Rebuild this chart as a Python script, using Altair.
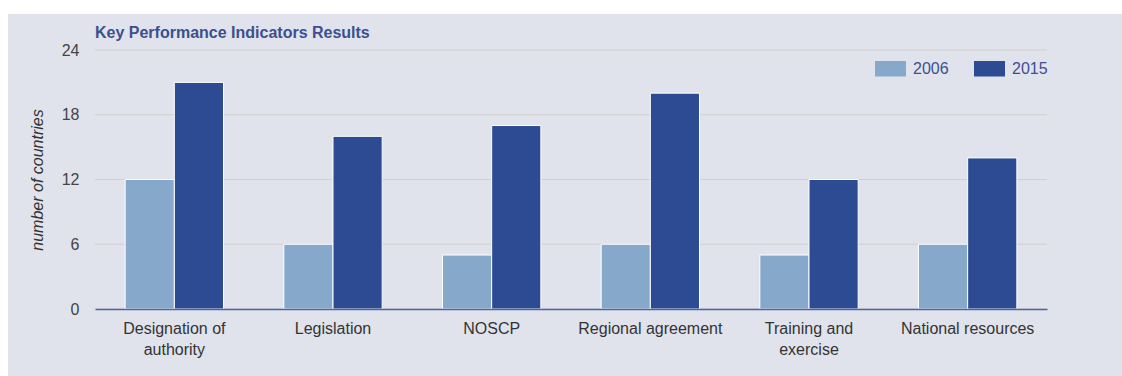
import altair as alt
import pandas as pd

# --- data -------------------------------------------------------------
categories = [
    "Designation of authority",
    "Legislation",
    "NOSCP",
    "Regional agreement",
    "Training and exercise",
    "National resources",
]
years = ["2006", "2015"]
values_2006 = [12, 6, 5, 6, 5, 6]
values_2015 = [21, 16, 17, 20, 12, 14]
y_ticks = [0, 6, 12, 18, 24]

# longer category names are shown on two lines
label_lines = {
    "Designation of authority": ["Designation of", "authority"],
    "Training and exercise": ["Training and", "exercise"],
}

# --- layout / style ---------------------------------------------------
W, H = 952, 259
PAD = {"left": 95, "top": 50, "right": 75, "bottom": 67}
FONT = "Liberation Sans"
PANEL = "#e0e3eb"
GRID = "#cfcfcf"
BLUE_TEXT = "#3d4f8f"
BAR_COLORS = ["#86a9cb", "#2d4b93"]

rows = []
for cat, v06, v15 in zip(categories, values_2006, values_2015):
    rows.append({"category": cat, "year": years[0], "count": v06})
    rows.append({"category": cat, "year": years[1], "count": v15})
df = pd.DataFrame(rows)
ticks_df = pd.DataFrame({"v": y_ticks})

label_expr = ""
for name, lines in label_lines.items():
    parts = ", ".join(f"'{s}'" for s in lines)
    label_expr += f"datum.label == '{name}' ? [{parts}] : "
label_expr += "datum.label"

y_scale = alt.Scale(domain=[0, 24], nice=False)
y_axis = alt.Axis(
    values=y_ticks,
    title="number of countries",
    titleFont=FONT,
    titleFontSize=16,
    titleFontStyle="italic",
    titleFontWeight="normal",
    titleColor="#333333",
    titleX=-53,
    titleY=H / 2,
    titleAlign="center",
    titleBaseline="alphabetic",
    labelFont=FONT,
    labelFontSize=16,
    labelColor="#444444",
    labelPadding=16,
    ticks=False,
    tickSize=0,
    domain=False,
    grid=False,
    zindex=2,
)

# light panel behind the whole figure (offset from the page's top-left)
panel = (
    alt.Chart(alt.Data(values=[{}]))
    .mark_rect(color=PANEL)
    .encode(
        x=alt.value(-87),
        x2=alt.value(W + PAD["right"]),
        y=alt.value(-36),
        y2=alt.value(H + PAD["bottom"]),
    )
)

# horizontal gridlines at the tick values
grid = (
    alt.Chart(ticks_df)
    .mark_rule(color=GRID, strokeWidth=1)
    .encode(
        y=alt.Y("v:Q", scale=y_scale, axis=y_axis),
        x=alt.value(0),
        x2=alt.value(W),
    )
)

bars = (
    alt.Chart(df)
    .mark_bar(stroke="white", strokeWidth=1)
    .encode(
        x=alt.X(
            "category:N",
            sort=categories,
            scale=alt.Scale(paddingInner=0.38, paddingOuter=0.19),
            axis=alt.Axis(
                title=None,
                labelAngle=0,
                labelExpr=label_expr,
                labelFont=FONT,
                labelFontSize=16,
                labelColor="#333333",
                labelPadding=11,
                labelLineHeight=21.5,
                ticks=False,
                tickSize=0,
                grid=False,
                domainColor="#4b66a8",
                domainWidth=1.5,
                zindex=2,
            ),
        ),
        xOffset=alt.XOffset("year:N", sort=years, scale=alt.Scale(paddingInner=0)),
        y=alt.Y("count:Q", scale=y_scale, axis=y_axis),
        color=alt.Color(
            "year:N",
            scale=alt.Scale(domain=years, range=BAR_COLORS),
            title=None,
            legend=alt.Legend(
                orient="none",
                legendX=780,
                legendY=3,
                direction="horizontal",
                symbolType="M-1,-0.5H1V0.5H-1Z",
                symbolSize=961,
                symbolStrokeWidth=0,
                labelFont=FONT,
                labelFontSize=16,
                labelColor=BLUE_TEXT,
                labelOffset=7,
                columnPadding=25,
                padding=0,
            ),
        ),
    )
)

chart = (
    alt.layer(panel, grid, bars)
    .properties(
        width=W,
        height=H,
        padding=PAD,
        autosize=alt.AutoSizeParams(type="none"),
        title=alt.TitleParams(
            text="Key Performance Indicators Results",
            anchor="start",
            frame="group",
            font=FONT,
            fontSize=16,
            fontWeight="bold",
            color=BLUE_TEXT,
            offset=-27,
        ),
    )
    .configure(background="white")
    .configure_view(strokeWidth=0)
)

chart.save("out.html", embed_options={"renderer": "svg", "actions": False})
